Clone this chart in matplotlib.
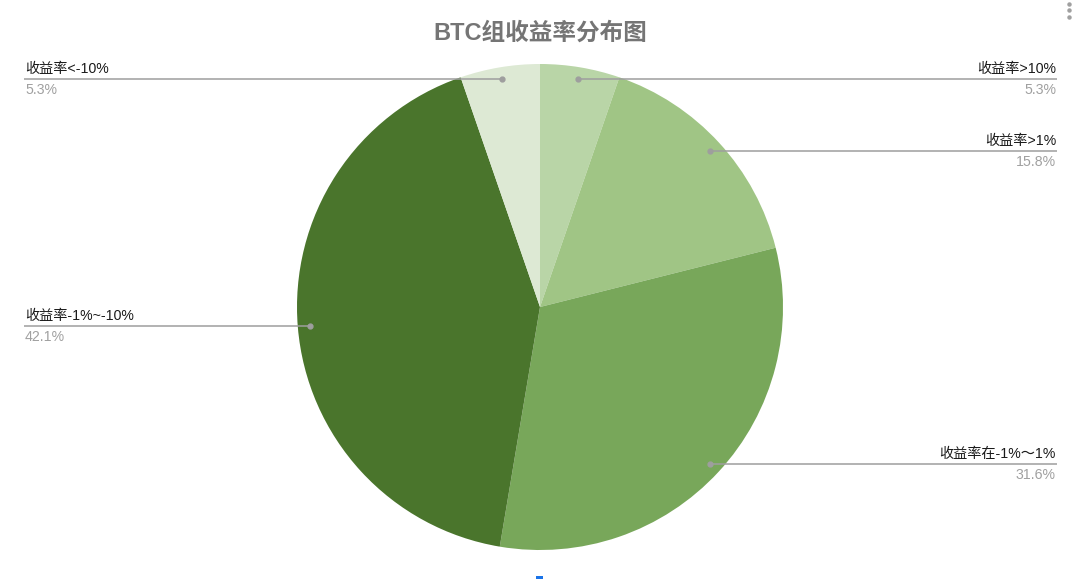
import numpy as np
import matplotlib
matplotlib.use('Agg')
from matplotlib import pyplot as plt
from matplotlib.patches import Rectangle

labels = ['收益率>10%', '收益率>1%', '收益率在-1%～1%', '收益率-1%~-10%', '收益率<-10%']
shares = [5.3, 15.8, 31.6, 42.1, 5.3]
colors = ['#b9d5a7', '#a0c585', '#78a75a', '#4a752c', '#dde9d4']

W, H = 1080, 579      # canvas in pixels
CX, CY, R = 540, 307, 243

plt.rcParams['font.family'] = ['Liberation Sans', 'Noto Sans CJK SC', 'DejaVu Sans']

fig = plt.figure(figsize=(W / 100, H / 100), dpi=100)
ax = fig.add_axes([0, 0, 1, 1])
ax.set_xlim(0, W)
ax.set_ylim(0, H)
ax.set_aspect('equal')
ax.axis('off')

wedges, _ = ax.pie(shares, colors=colors, startangle=90, counterclock=False,
                   center=(CX, H - CY), radius=R, normalize=True,
                   wedgeprops=dict(linewidth=0))
ax.set_xlim(0, W)
ax.set_ylim(0, H)

# leader lines + labels
for w, lab, val in zip(wedges, labels, shares):
  ang = np.deg2rad((w.theta1 + w.theta2) / 2)
  dx = CX + 0.95 * R * np.cos(ang)
  dy = H - CY + 0.95 * R * np.sin(ang)
  if np.cos(ang) >= 0:
    xe, ha = 1057, 'right'
  else:
    xe, ha = 24, 'left'
  ax.plot([dx, xe], [dy, dy], color='#9e9e9e', lw=1.1, solid_capstyle='butt')
  ax.plot(dx, dy, 'o', color='#9e9e9e', ms=3.5)
  xt = xe - 1 if ha == 'right' else xe + 1
  ax.text(xt, dy + 3, lab, ha=ha, va='bottom', fontsize=10.2, color='#1a1a1a')
  ax.text(xt, dy - 4, '%.1f%%' % val, ha=ha, va='top', fontsize=10.2, color='#a0a0a0')

fig.text(0.5, 1 - 33 / H, 'BTC组收益率分布图', ha='center', va='center',
         fontsize=17, fontweight='bold', color='#757575')

# menu dots and small blue marker from the screenshot
ax.plot([1069, 1069, 1069], [H - 4, H - 10, H - 17], 'o', color='#a0a0a0', ms=2.2)
ax.add_patch(Rectangle((536, 0), 7, 3, color='#1a73e8', lw=0))

fig.savefig('out.png', dpi=100)
